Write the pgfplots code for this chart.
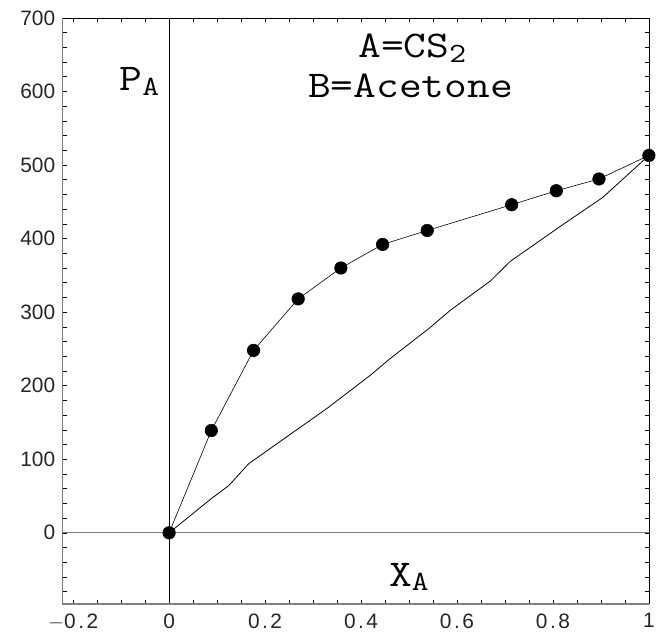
\documentclass[border=0pt]{standalone}
\usepackage{fontspec}
\setmainfont{Liberation Sans}
\usepackage{graphicx}
\usepackage{pgfplots}
\pgfplotsset{compat=1.18}
\newcommand{\lab}{\ttfamily\fontsize{38}{40}\selectfont}
\newcommand{\wide}[1]{\scalebox{1.17}[1]{#1}}
\newcommand{\sub}[1]{\raisebox{-0.3ex}{\fontsize{28}{28}\selectfont #1}}
\newcommand{\dt}{\kern2.5pt.\kern2.5pt}

\begin{document}
\begin{tikzpicture}
\begin{axis}[
  scale only axis, width=590pt, height=590pt,
  xmin=-0.222, xmax=1, ymin=-97, ymax=700,
  axis line style={draw=none},
  tick align=inside,
  xtick={-0.2,0,0.2,0.4,0.6,0.8,1},
  xticklabels={$-$0\dt2,0,0\dt2,0\dt4,0\dt6,0\dt8,1},
  minor x tick num=3,
  ytick={-100,0,100,...,700},
  minor y tick num=4,
  major tick length=4pt, minor tick length=4pt,
  every tick/.style={black, line width=0.5pt},
  /pgf/number format/assume math mode=true,
  ticklabel style={font=\fontsize{21}{21}\selectfont, text=black!85},
  xticklabel style={yshift=-6pt},
  yticklabel style={xshift=-4pt},
  clip=false,
]
% axes through the origin
\draw[gray, line width=1.3pt] (axis cs:-0.222,0) -- (axis cs:1,0);
\draw[black, line width=0.6pt] (axis cs:0,-97) -- (axis cs:0,700);
% frame
\draw[gray, line width=1.6pt] (rel axis cs:0,1) -- (rel axis cs:0,0) -- (rel axis cs:1,0);
\draw[black, line width=0.6pt] (rel axis cs:0,1) -- (rel axis cs:1,1) -- (rel axis cs:1,0);

% ideal (Raoult) line
\addplot[black, line width=0.8pt] coordinates {
  (0,0) (0.087,46) (0.124,64) (0.166,94) (0.331,170) (0.421,215)
  (0.459,236) (0.542,278) (0.587,303) (0.669,342) (0.711,369)
  (0.814,416) (0.904,456) (1.0,513)
};
% measured partial pressure of CS2
\addplot[black, line width=0.6pt, mark=*, mark size=6.3pt, mark options={fill=black}] coordinates {
  (0,0) (0.088,139) (0.176,248) (0.269,318) (0.358,360) (0.445,392)
  (0.538,411) (0.714,446) (0.807,465) (0.896,481) (1.0,513)
};

\node[font=\lab] at (axis cs:-0.062,613) {\wide{P\sub{A}}};
\node[font=\lab] at (axis cs:0.507,659) {\wide{A=CS\sub{2}}};
\node[font=\lab] at (axis cs:0.503,608) {\wide{B=Acetone}};
\node[font=\lab] at (axis cs:0.50,-60) {\wide{X\sub{A}}};

\coordinate (sw) at (rel axis cs:0,0);
\coordinate (ne) at (rel axis cs:1,1);
\end{axis}
\path ([xshift=-63pt,yshift=-40pt]sw) rectangle ([xshift=5pt,yshift=18pt]ne);
\end{tikzpicture}
\end{document}
